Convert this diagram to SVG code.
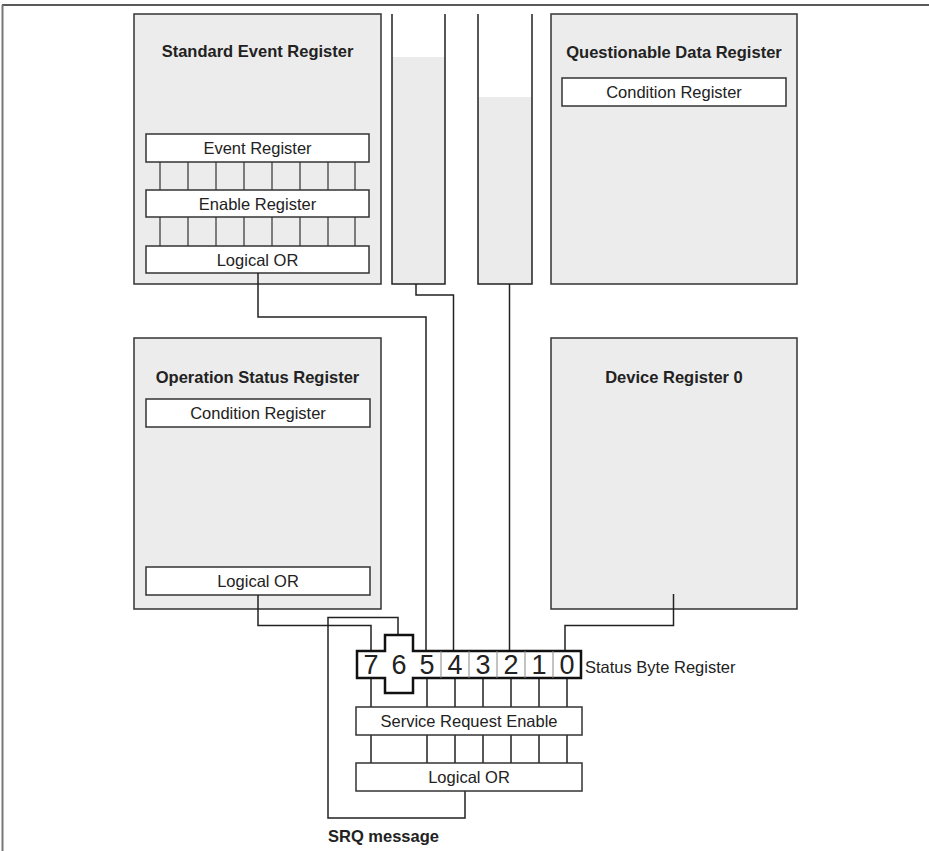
<svg xmlns="http://www.w3.org/2000/svg" width="929" height="851" viewBox="0 0 929 851">
<style>
.reg{fill:#ececec;stroke:#333;stroke-width:1.5}
.inner{fill:#fff;stroke:#333;stroke-width:1.5}
.ttl{font-family:"Liberation Sans",Arial,sans-serif;font-weight:bold;font-size:16.5px;fill:#222;text-anchor:middle}
.lbl{font-family:"Liberation Sans",Arial,sans-serif;font-size:16.5px;fill:#222;text-anchor:middle}
.dig{font-family:"Liberation Sans",Arial,sans-serif;font-size:27px;fill:#222;text-anchor:middle}
.w{fill:none;stroke:#222;stroke-width:1.5}
.t{fill:none;stroke:#333;stroke-width:1.2}
</style>
<rect width="929" height="851" fill="#fff"/>
<g id="frame">
<line x1="2" y1="5" x2="929" y2="5" stroke="#222" stroke-width="1.5"/>
<line x1="2.5" y1="5" x2="2.5" y2="851" stroke="#777" stroke-width="2"/>
</g>

<g id="standard-event-register">
<rect class="reg" x="134" y="14" width="247" height="270"/>
<text class="ttl" x="257.5" y="57">Standard Event Register</text>
<rect class="inner" x="146" y="134" width="223" height="28"/>
<text class="lbl" x="257.5" y="154">Event Register</text>
<g class="t">
<path d="M160,162V190M188,162V190M216,162V190M244,162V190M272,162V190M300,162V190M328,162V190M355,162V190"/>
<path d="M160,217V246M188,217V246M216,217V246M244,217V246M272,217V246M300,217V246M328,217V246M355,217V246"/>
</g>
<rect class="inner" x="146" y="190" width="223" height="27"/>
<text class="lbl" x="257.5" y="209.5">Enable Register</text>
<rect class="inner" x="146" y="246" width="223" height="27"/>
<text class="lbl" x="257.5" y="265.5">Logical OR</text>
</g>

<g id="queue-1">
<rect x="392" y="57" width="53" height="227" fill="#ebebeb"/>
<path class="w" d="M392,14V284H445V14"/>
</g>
<g id="queue-2">
<rect x="478" y="97" width="54" height="187" fill="#ebebeb"/>
<path class="w" d="M478,14V284H532V14"/>
</g>

<g id="questionable-data-register">
<rect class="reg" x="551" y="14" width="246" height="270"/>
<text class="ttl" x="674" y="58">Questionable Data Register</text>
<rect class="inner" x="562" y="78" width="224" height="28"/>
<text class="lbl" x="674" y="97.5">Condition Register</text>
</g>

<g id="operation-status-register">
<rect class="reg" x="134" y="338" width="247" height="271"/>
<text class="ttl" x="257.5" y="382.5">Operation Status Register</text>
<rect class="inner" x="146" y="399" width="224" height="28"/>
<text class="lbl" x="258" y="419">Condition Register</text>
<rect class="inner" x="146" y="567" width="224" height="28"/>
<text class="lbl" x="258" y="587">Logical OR</text>
</g>

<g id="device-register-0">
<rect class="reg" x="551" y="338" width="246" height="271"/>
<text class="ttl" x="674" y="382.5">Device Register 0</text>
</g>

<g id="connectors" class="w">
<path d="M258,273V317H426V651"/>
<path d="M416,284V295H453.5V651"/>
<path d="M509.5,284V651"/>
<path d="M673.5,594V625.5H565V651"/>
<path d="M258,595V625.5H371V651"/>
<path d="M398,635V617.5H328V818H465V791"/>
<path d="M371,678V707M427,678V707M455,678V707M483,678V707M511,678V707M539,678V707M567,678V707"/>
<path d="M371,735V763M427,735V763M455,735V763M483,735V763M511,735V763M539,735V763M567,735V763"/>
</g>

<g id="status-byte-register">
<path d="M357,651H385V635H413V651H581V678H413V693H385V678H357Z" fill="#fff" stroke="#111" stroke-width="2.5"/>
<path d="M441,651V678M469,651V678M497,651V678M525,651V678M553,651V678" stroke="#888" stroke-width="1"/>
<text class="dig" x="371" y="674">7</text>
<text class="dig" x="399" y="674">6</text>
<text class="dig" x="427" y="674">5</text>
<text class="dig" x="455" y="674">4</text>
<text class="dig" x="483" y="674">3</text>
<text class="dig" x="511" y="674">2</text>
<text class="dig" x="539" y="674">1</text>
<text class="dig" x="567" y="674">0</text>
<text class="lbl" x="585" y="673" text-anchor="start" style="text-anchor:start">Status Byte Register</text>
</g>

<g id="service-request-enable">
<rect class="inner" x="356" y="707" width="226" height="28"/>
<text class="lbl" x="469" y="727">Service Request Enable</text>
</g>
<g id="logical-or-srq">
<rect class="inner" x="356" y="763" width="226" height="28"/>
<text class="lbl" x="469" y="783">Logical OR</text>
</g>
<g id="srq-message">
<text class="ttl" x="328" y="842" style="text-anchor:start">SRQ message</text>
</g>
</svg>
